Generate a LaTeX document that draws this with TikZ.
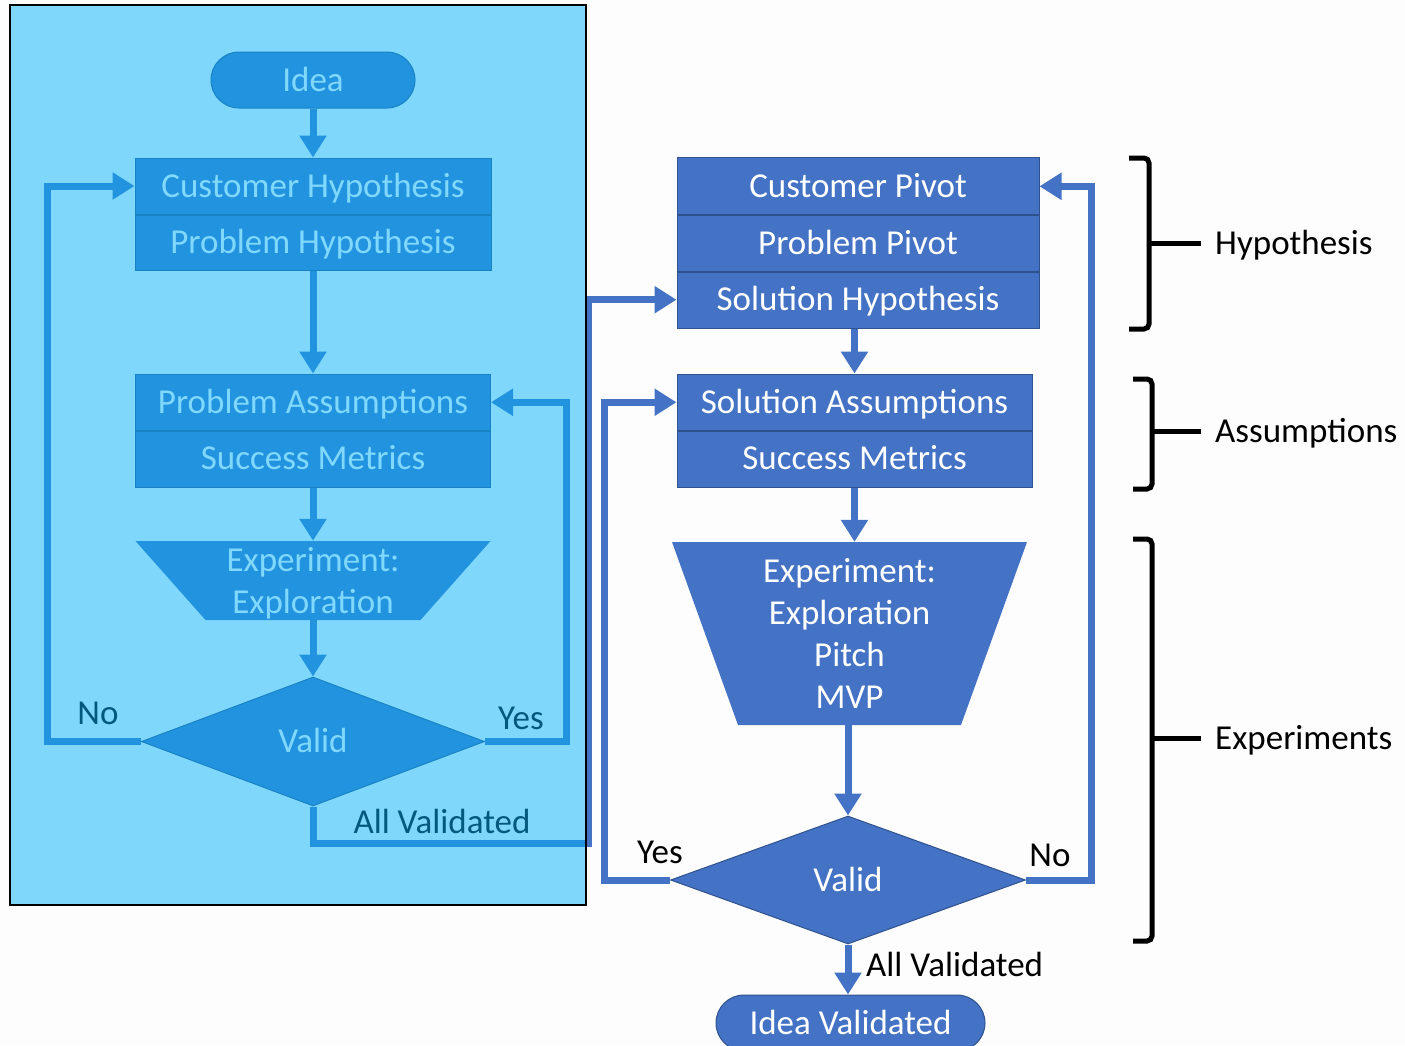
\documentclass[tikz,border=0pt]{standalone}
\usepackage{fontspec}
\setmainfont{Carlito}
\usetikzlibrary{arrows.meta,shapes.geometric}

\definecolor{pagebg}{HTML}{FDFDFD}
\definecolor{flowblue}{HTML}{4472C4}
\definecolor{flowedge}{HTML}{2F528F}
\definecolor{veil}{HTML}{02B4FA}

\begin{document}
\begin{tikzpicture}[x=1pt,y=-1pt,
  font=\fontsize{35}{42}\selectfont,
  shapefill/.style={fill=flowblue, draw=flowedge, line width=1pt, text=white,
    inner sep=0pt, text height=26pt, text depth=4pt},
  term/.style={shapefill, rounded corners=28pt, minimum height=56pt},
  cell/.style={shapefill},
  dec/.style={shapefill, diamond},
  funnel/.style={inner sep=0pt, text=white, align=center,
    path picture={\fill[flowblue] (path picture bounding box.north west)
      -- (path picture bounding box.north east)
      -- ([xshift=-#1]path picture bounding box.south east)
      -- ([xshift=#1]path picture bounding box.south west) -- cycle;}},
  flowarrow/.style={draw=flowblue, line width=7pt,
    -{Triangle[length=22pt,width=26pt]}},
  divider/.style={draw=flowedge, line width=2pt},
  answer/.style={text=black, inner sep=0pt, text height=26pt, text depth=4pt},
  phase/.style={text=black, anchor=west, inner sep=0pt, text height=26pt, text depth=4pt},
  bracket/.style={draw=black, line width=5pt, rounded corners=5pt},
]
\clip (0,0) rectangle (1405,1045);
\fill[pagebg] (0,0) rectangle (1405,1045);

% ---------- problem loop (left column) ----------
\node[term, minimum width=204pt] (idea) at (313,80) {Idea};
\node[cell, minimum width=356pt, minimum height=56pt] (ch1) at (313,186) {Customer Hypothesis};
\node[cell, minimum width=356pt, minimum height=56pt] (ch2) at (313,242) {Problem Hypothesis};
\draw[divider] (ch1.south west) -- (ch1.south east);
\node[cell, minimum width=355pt, minimum height=56.5pt] (pa1) at (313,402.25) {Problem Assumptions};
\node[cell, minimum width=355pt, minimum height=56.5pt] (pa2) at (313,458.75) {Success Metrics};
\draw[divider] (pa1.south west) -- (pa1.south east);
\node[funnel=70pt, minimum width=355pt, minimum height=79pt] (exp1) at (313,580.5)
  {\rule{0pt}{29pt}Experiment:\\Exploration};
\node[dec, minimum width=343pt, minimum height=129pt] (val1) at (313,741.5) {Valid};

\draw[flowarrow] (idea) -- (ch1);
\draw[flowarrow] (ch2) -- (pa1);
\draw[flowarrow] (pa2) -- (exp1);
\draw[flowarrow] (exp1) -- (val1);
\draw[flowarrow] (val1.west) -- ++(-94,0) |- (ch1.west);
\draw[flowarrow] (val1.east) -- ++(81,0) |- (pa1.east);
\coordinate (jog) at (588,843);

\node[answer] (no1) at (98,713) {No};
\node[answer] (yes1) at (521,718) {Yes};
\node[answer] (all1) at (442,822) {All Validated};

% ---------- solution loop (right column) ----------
\node[cell, minimum width=362pt, minimum height=56.67pt] (cp1) at (858,186.3) {Customer Pivot};
\node[cell, minimum width=362pt, minimum height=56.67pt] (cp2) at (858,243) {Problem Pivot};
\node[cell, minimum width=362pt, minimum height=56.67pt] (cp3) at (858,299.7) {Solution Hypothesis};
\draw[divider] (cp1.south west) -- (cp1.south east);
\draw[divider] (cp2.south west) -- (cp2.south east);
\node[cell, minimum width=355pt, minimum height=56.5pt] (sa1) at (854.5,402.25) {Solution Assumptions};
\node[cell, minimum width=355pt, minimum height=56.5pt] (sa2) at (854.5,458.75) {Success Metrics};
\draw[divider] (sa1.south west) -- (sa1.south east);
\node[funnel=66pt, minimum width=355pt, minimum height=183pt] (exp2) at (849.5,633.5)
  {Experiment:\\Exploration\\Pitch\\MVP};
\node[dec, minimum width=355pt, minimum height=128pt] (val2) at (848,880) {Valid};
\node[term, minimum width=269pt] (iv) at (850.5,1023) {Idea Validated};

\draw[flowarrow] (val1.south) |- (jog) |- (cp3.west);
\draw[flowarrow] (sa1.north |- cp3.south) -- (sa1.north);
\draw[flowarrow] (sa2.south) -- (sa2.south |- exp2.north);
\draw[flowarrow] (exp2.south -| val2.north) -- (val2.north);
\draw[flowarrow] (val2.south) -- (val2.south |- iv.north);
\draw[flowarrow] (val2.west) -- ++(-66,0) |- (sa1.west);
\draw[flowarrow] (val2.east) -- ++(65,0) |- (cp1.east);

\node[answer] (yes2) at (660,852) {Yes};
\node[answer] (no2) at (1050,855) {No};
\node[answer, anchor=west] (all2) at (866,965) {All Validated};

% ---------- phase brackets ----------
\node[phase] (hyp) at (1215,243) {Hypothesis};
\node[phase] (ass) at (1215,431) {Assumptions};
\node[phase] (exs) at (1215,738) {Experiments};
\draw[bracket] (1129,158) -- (1149,158) -- (1149,329) -- (1129,329);
\draw[bracket] (1133,379) -- (1152,379) -- (1152,489) -- (1133,489);
\draw[bracket] (1133,539) -- (1152,539) -- (1152,941) -- (1133,941);
\draw[line width=5pt, shorten >=14pt] (1149,243) -- (hyp.west);
\draw[line width=5pt, shorten >=14pt] (1152,431) -- (ass.west);
\draw[line width=5pt, shorten >=14pt] (1152,738) -- (exs.west);

% ---------- tinted panel over the problem loop ----------
\fill[veil, opacity=0.5] (10,5) rectangle (586,905);
\draw[black, line width=2.5pt] (10,5) rectangle (586,905);
\end{tikzpicture}
\end{document}
